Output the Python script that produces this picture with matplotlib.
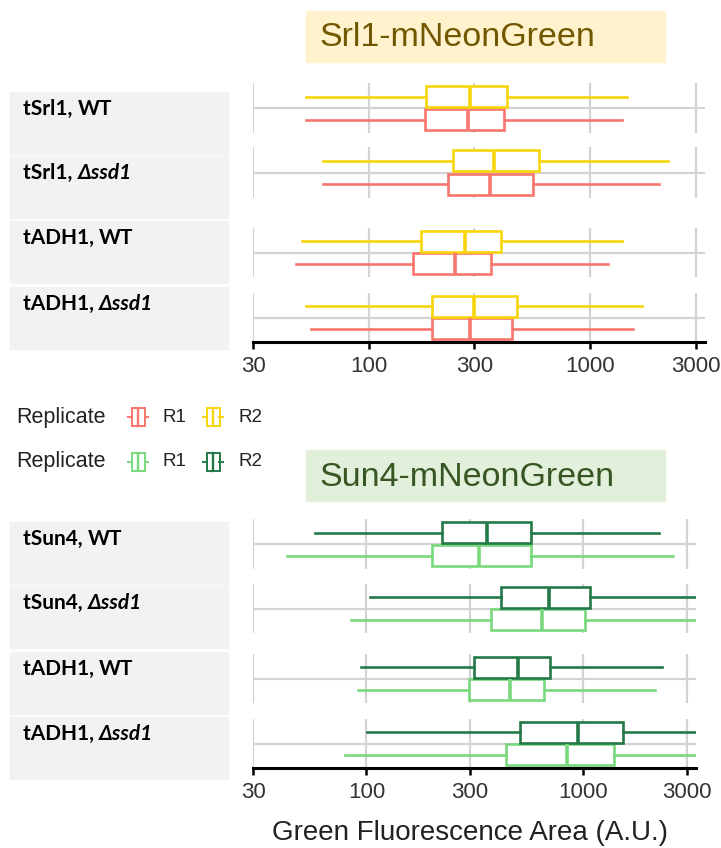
import matplotlib.pyplot as plt
from matplotlib.patches import Rectangle
from matplotlib.lines import Line2D

W, H = 721, 848

# ---- data ----
srl1_labels = [("tSrl1, ", "WT"), ("tSrl1, ", "Δssd1"), ("tADH1, ", "WT"), ("tADH1, ", "Δssd1")]
sun4_labels = [("tSun4, ", "WT"), ("tSun4, ", "Δssd1"), ("tADH1, ", "WT"), ("tADH1, ", "Δssd1")]

# Srl1 replicate R1 (red) and R2 (yellow)
srl1_r1_lo = [52, 62, 47, 55]
srl1_r1_q1 = [179, 229, 158, 192]
srl1_r1_med = [282, 354, 244, 288]
srl1_r1_q3 = [410, 553, 358, 445]
srl1_r1_hi = [1392, 2043, 1204, 1560]

srl1_r2_lo = [52, 62, 50, 52]
srl1_r2_q1 = [182, 239, 173, 194]
srl1_r2_med = [288, 369, 271, 300]
srl1_r2_q3 = [422, 589, 397, 469]
srl1_r2_hi = [1467, 2244, 1392, 1713]

# Sun4 replicate R1 (light green) and R2 (dark green)
sun4_r1_lo = [43, 85, 91, 80]
sun4_r1_q1 = [200, 374, 296, 439]
sun4_r1_med = [331, 645, 458, 836]
sun4_r1_q3 = [571, 1016, 661, 1381]
sun4_r1_hi = [2592, 4000, 2133, 4000]

sun4_r2_lo = [58, 104, 94, 101]
sun4_r2_q1 = [224, 418, 312, 508]
sun4_r2_med = [359, 694, 501, 944]
sun4_r2_q3 = [571, 1077, 698, 1515]
sun4_r2_hi = [2238, 4000, 2306, 4000]

xticks = [30, 100, 300, 1000, 3000]
xlim = (30, 3300)

RED, YELLOW = "#F8766D", "#F7D50C"
LGREEN, DGREEN = "#78D97C", "#237A48"
GRID = "#d3d3d3"
STRIP = "#f2f2f2"

plt.rcParams["font.family"] = ["Liberation Sans", "DejaVu Sans"]

fig = plt.figure(figsize=(W / 100, H / 100), dpi=100)
renderer = fig.canvas.get_renderer()


def fx(x):
    return x / W


def fy(y):
    return 1 - y / H


def stats(lo, q1, med, q3, hi, i):
    return [dict(whislo=lo[i], q1=q1[i], med=med[i], q3=q3[i], whishi=hi[i], fliers=[])]


def draw_box(ax, st, pos, color):
    ax.bxp(st, positions=[pos], widths=0.42, orientation="horizontal",
           showcaps=False, showfliers=False, patch_artist=True,
           boxprops=dict(facecolor="white", edgecolor=color, linewidth=1.9),
           whiskerprops=dict(color=color, linewidth=1.9),
           medianprops=dict(color=color, linewidth=2.6),
           manage_ticks=False)


def strip_label(ypx_top, prefix, suffix):
    fig.patches.append(Rectangle((fx(10), fy(ypx_top + 62)), fx(218), 62 / H,
                                 transform=fig.transFigure, color=STRIP, zorder=0))
    base = fy(ypx_top + 23)
    t = fig.text(fx(23), base, prefix, fontsize=15, fontweight="bold",
                 family="Lato", va="baseline", ha="left")
    w = t.get_window_extent(renderer).width
    style = "italic" if suffix.startswith("Δ") else "normal"
    fig.text(fx(23) + w / W, base, suffix, fontsize=15, fontweight="bold",
             family="Lato", style=style, va="baseline", ha="left")


def group(panels, left, right, labels, r1, r2, c1, c2, strips):
    axes = []
    for i, (top, bot) in enumerate(panels):
        ax = fig.add_axes([fx(left), fy(bot), fx(right - left), (bot - top) / H])
        ax.set_xscale("log")
        ax.set_xlim(*xlim)
        ax.set_ylim(0, 1)
        for v in xticks:
            ax.axvline(v, color=GRID, lw=1.6, zorder=0)
        ax.axhline(0.5, color=GRID, lw=1.6, zorder=0)
        draw_box(ax, stats(*r1, i), 0.27, c1)
        draw_box(ax, stats(*r2, i), 0.73, c2)
        ax.set_yticks([])
        for s in ["top", "left", "right"]:
            ax.spines[s].set_visible(False)
        ax.set_xticks(xticks)
        ax.xaxis.set_minor_locator(plt.NullLocator())
        if i < len(panels) - 1:
            ax.spines["bottom"].set_visible(False)
            ax.tick_params(axis="x", length=0, labelbottom=False)
        else:
            ax.spines["bottom"].set_linewidth(2.2)
            ax.set_xticklabels([str(v) for v in xticks])
            ax.tick_params(axis="x", length=5, width=1.8, pad=5,
                           labelsize=16, labelcolor="#333333")
        axes.append(ax)
        strip_label(strips[i], *labels[i])
    return axes


srl1_r1 = (srl1_r1_lo, srl1_r1_q1, srl1_r1_med, srl1_r1_q3, srl1_r1_hi)
srl1_r2 = (srl1_r2_lo, srl1_r2_q1, srl1_r2_med, srl1_r2_q3, srl1_r2_hi)
sun4_r1 = (sun4_r1_lo, sun4_r1_q1, sun4_r1_med, sun4_r1_q3, sun4_r1_hi)
sun4_r2 = (sun4_r2_lo, sun4_r2_q1, sun4_r2_med, sun4_r2_q3, sun4_r2_hi)

group([(83, 133), (147, 198), (228, 277), (293, 342)], 253, 705,
      srl1_labels, srl1_r1, srl1_r2, RED, YELLOW, [92, 156, 221, 287])
axs = group([(519, 569), (584, 633), (654, 703), (719, 768)], 253, 696,
            sun4_labels, sun4_r1, sun4_r2, LGREEN, DGREEN, [522, 586, 652, 717])

fig.text(fx(470), fy(833), "Green Fluorescence Area (A.U.)", fontsize=20,
         ha="center", va="center", color="#222222")

# title boxes
fig.patches.append(Rectangle((fx(306), fy(62)), fx(359), 51 / H,
                             transform=fig.transFigure, color="#FFF2CC", zorder=0))
fig.text(fx(319), fy(37), "Srl1-mNeonGreen", fontsize=24.5, color="#715800",
         ha="left", va="center")
fig.patches.append(Rectangle((fx(306), fy(501)), fx(359), 51 / H,
                             transform=fig.transFigure, color="#E2EFDA", zorder=0))
fig.text(fx(319), fy(477), "Sun4-mNeonGreen", fontsize=24.5, color="#375623",
         ha="left", va="center")


def legend_key(xc, yc, color):
    tf = fig.transFigure
    fig.patches.append(Rectangle((fx(xc - 6.5), fy(yc + 9)), 13 / W, 18 / H,
                                 transform=tf, facecolor="white", edgecolor=color, lw=1.4))
    fig.lines.append(Line2D([fx(xc), fx(xc)], [fy(yc - 9), fy(yc + 9)], transform=tf,
                            color=color, lw=1.7))
    fig.lines.append(Line2D([fx(xc - 10), fx(xc - 6.5)], [fy(yc), fy(yc)], transform=tf,
                            color=color, lw=1.4))
    fig.lines.append(Line2D([fx(xc + 6.5), fx(xc + 10)], [fy(yc), fy(yc)], transform=tf,
                            color=color, lw=1.4))


for yc, c1, c2 in [(417, RED, YELLOW), (462, LGREEN, DGREEN)]:
    fig.text(fx(16), fy(yc), "Replicate", fontsize=15.5, ha="left", va="center",
             color="#222222")
    legend_key(138, yc, c1)
    fig.text(fx(163), fy(yc), "R1", fontsize=13.5, ha="left", va="center", color="#222222")
    legend_key(213, yc, c2)
    fig.text(fx(238), fy(yc), "R2", fontsize=13.5, ha="left", va="center", color="#222222")

fig.savefig("out.png", dpi=100)
